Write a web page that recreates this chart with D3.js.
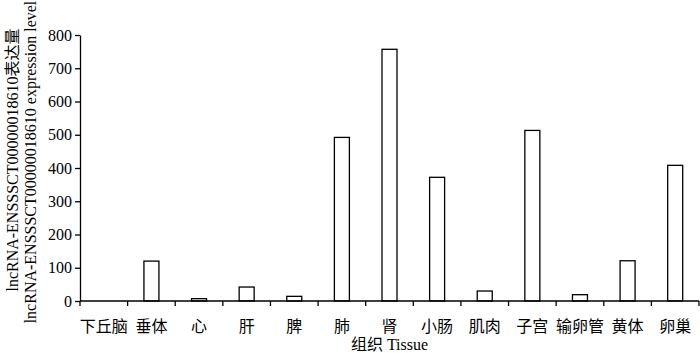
<!DOCTYPE html>
<html>
<head>
<meta charset="utf-8">
<script src="https://cdn.jsdelivr.net/npm/d3@7"></script>
<style>
  body { margin: 0; background: #fff; }
  text { font-family: "Liberation Serif", "Noto Sans CJK SC", serif; fill: #000; }
</style>
</head>
<body>
<div id="chart"></div>
<script>
// tissues and expression values
var tissues = ["下丘脑", "垂体", "心", "肝", "脾", "肺", "肾", "小肠", "肌肉", "子宫", "输卵管", "黄体", "卵巢"];
var values = [0, 120, 7, 42, 14, 492, 757, 372, 30, 513, 19, 121, 408];
var yTicks = [0, 100, 200, 300, 400, 500, 600, 700, 800];

var margin = {top: 35, right: 1, bottom: 52, left: 80},
    width = 700 - margin.left - margin.right,
    height = 353 - margin.top - margin.bottom;

var svg = d3.select("#chart")
  .append("svg")
    .attr("width", 700)
    .attr("height", 353)
  .append("g")
    .attr("transform", "translate(" + margin.left + "," + margin.top + ")");

var x = d3.scaleBand()
          .domain(tissues)
          .range([0, width]);

var y = d3.scaleLinear()
          .domain([0, 800])
          .range([height, 0]);

// bars
var barW = 15;
svg.selectAll("rect.bar")
  .data(values)
  .enter()
  .append("rect")
    .attr("class", "bar")
    .attr("x", function(d, i) { return x(tissues[i]) + x.bandwidth() / 2 - barW / 2; })
    .attr("y", function(d) { return y(d); })
    .attr("width", barW)
    .attr("height", function(d) { return height - y(d); })
    .attr("fill", "#fff")
    .attr("stroke", "#000")
    .attr("stroke-width", 1.3);

// x axis: ticks at category boundaries
var xAxisG = svg.append("g")
  .attr("transform", "translate(0," + height + ")");
xAxisG.append("line")
  .attr("x1", 0).attr("x2", width)
  .attr("y1", 0).attr("y2", 0)
  .attr("stroke", "#000").attr("stroke-width", 1.3);
var bounds = tissues.map(function(t) { return x(t); }).concat([width]);
xAxisG.selectAll("line.tk")
  .data(bounds)
  .enter()
  .append("line")
    .attr("class", "tk")
    .attr("x1", function(d) { return d; })
    .attr("x2", function(d) { return d; })
    .attr("y1", 0).attr("y2", 5)
    .attr("stroke", "#000").attr("stroke-width", 1.3);
xAxisG.selectAll("text")
  .data(tissues)
  .enter()
  .append("text")
    .attr("x", function(d) { return x(d) + x.bandwidth() / 2; })
    .attr("y", 31)
    .attr("text-anchor", "middle")
    .style("font-size", "16px")
    .text(function(d) { return d; });

// y axis
var yAxis = svg.append("g")
  .call(d3.axisLeft(y).tickValues(yTicks).tickSize(5).tickSizeOuter(0).tickPadding(3));
yAxis.select(".domain").attr("stroke-width", 1.3);
yAxis.selectAll(".tick line").attr("stroke-width", 1.3);
yAxis.selectAll(".tick text")
  .style("font-size", "16px")
  .style("font-family", "'Liberation Serif', serif");

// axis titles
svg.append("text")
  .attr("x", width / 2)
  .attr("y", height + 49)
  .attr("text-anchor", "middle")
  .style("font-size", "16px")
  .text("组织 Tissue");

svg.append("text")
  .attr("transform", "translate(" + (-margin.left + 18) + "," + (height / 2 - 8) + ") rotate(-90)")
  .attr("text-anchor", "middle")
  .style("font-size", "16px")
  .text("lncRNA-ENSSSCT00000018610表达量");

svg.append("text")
  .attr("transform", "translate(" + (-margin.left + 36) + "," + (height / 2 - 6) + ") rotate(-90)")
  .attr("text-anchor", "middle")
  .style("font-size", "16px")
  .text("lncRNA-ENSSSCT00000018610 expression level");
</script>
</body>
</html>
